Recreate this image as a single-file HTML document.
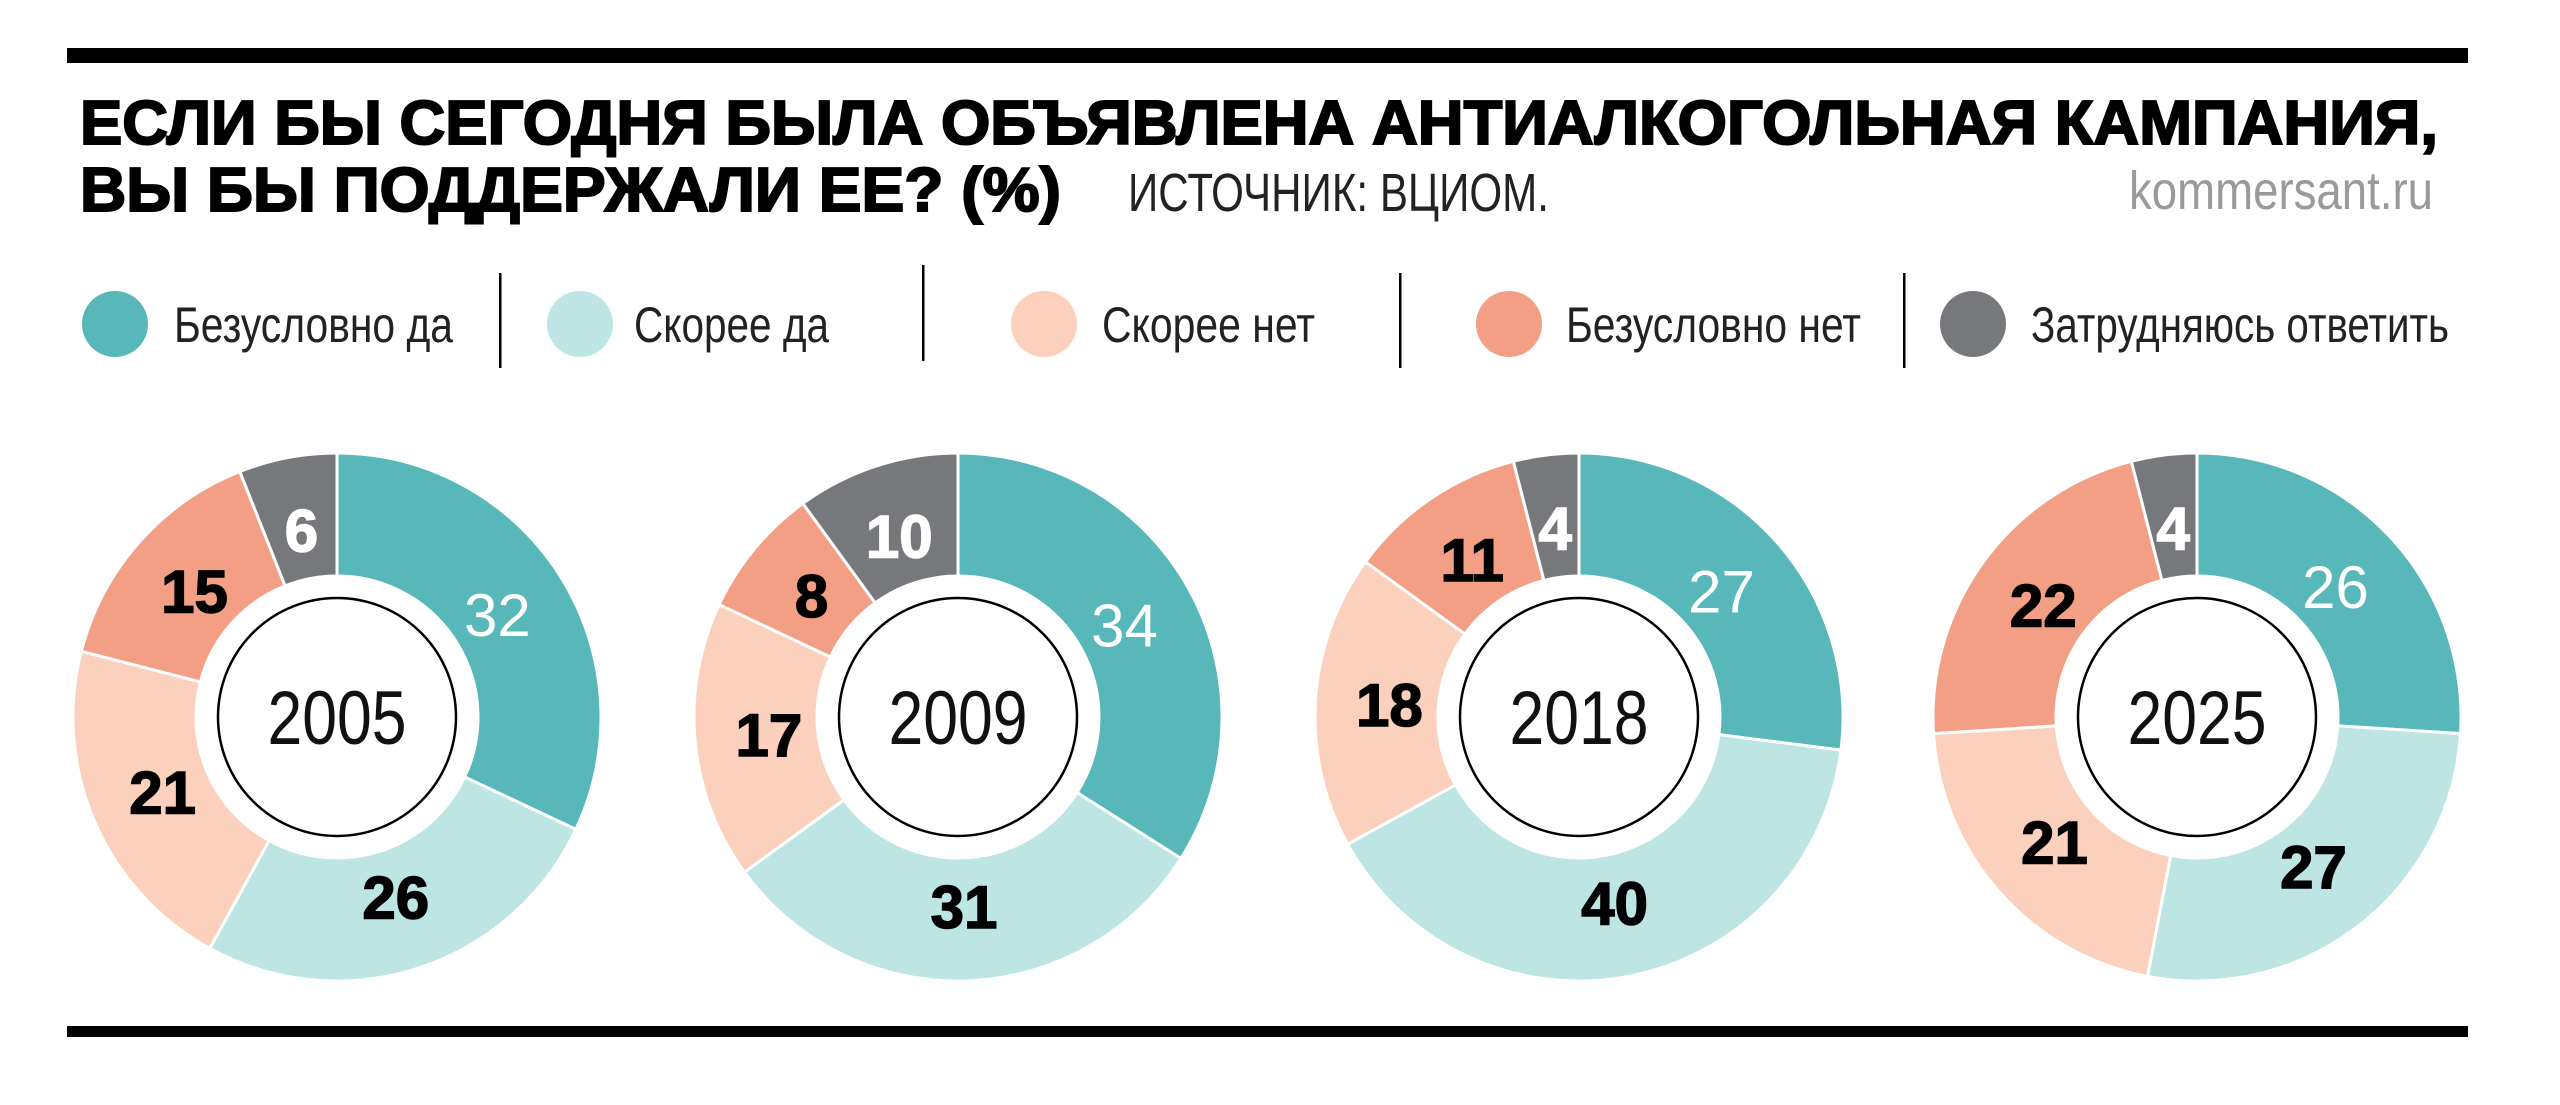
<!DOCTYPE html>
<html><head><meta charset="utf-8">
<style>html,body{margin:0;padding:0;background:#fff;}svg{display:block;}</style>
</head><body>
<svg id="s" xmlns="http://www.w3.org/2000/svg" width="2560" height="1105" viewBox="0 0 2560 1105" font-family="'Liberation Sans', sans-serif">
<rect x="0" y="0" width="2560" height="1105" fill="#fff"/>
<rect x="67" y="48" width="2401" height="15" fill="#000"/>
<rect x="67" y="1026" width="2401" height="11" fill="#000"/>
<text x="80" y="144" font-size="62" font-weight="bold" stroke="#000" stroke-width="2" textLength="2358" lengthAdjust="spacingAndGlyphs">ЕСЛИ БЫ СЕГОДНЯ БЫЛА ОБЪЯВЛЕНА АНТИАЛКОГОЛЬНАЯ КАМПАНИЯ,</text>
<text x="80" y="211" font-size="62" font-weight="bold" stroke="#000" stroke-width="2" textLength="981" lengthAdjust="spacingAndGlyphs">ВЫ БЫ ПОДДЕРЖАЛИ ЕЕ? (%)</text>
<text x="1128" y="211" font-size="54" fill="#222" textLength="421" lengthAdjust="spacingAndGlyphs">ИСТОЧНИК: ВЦИОМ.</text>
<text x="2129" y="209" font-size="54" fill="#9a9a9a" textLength="304" lengthAdjust="spacingAndGlyphs">kommersant.ru</text>
<g font-size="50" fill="#222">
<circle cx="115" cy="324" r="33" fill="#58b8b9"/>
<text x="174" y="342" textLength="279" lengthAdjust="spacingAndGlyphs">Безусловно да</text>
<rect x="499" y="273" width="2.5" height="95" fill="#000"/>
<circle cx="580" cy="324" r="33" fill="#bce5e4"/>
<text x="634" y="342" textLength="195" lengthAdjust="spacingAndGlyphs">Скорее да</text>
<rect x="922" y="265" width="2.5" height="96" fill="#000"/>
<circle cx="1044" cy="324" r="33" fill="#fbd0bd"/>
<text x="1102" y="342" textLength="213" lengthAdjust="spacingAndGlyphs">Скорее нет</text>
<rect x="1399" y="273" width="2.5" height="95" fill="#000"/>
<circle cx="1509" cy="324" r="33" fill="#f29f86"/>
<text x="1566" y="342" textLength="295" lengthAdjust="spacingAndGlyphs">Безусловно нет</text>
<rect x="1903" y="273" width="2.5" height="95" fill="#000"/>
<circle cx="1973" cy="324" r="33" fill="#77787b"/>
<text x="2031" y="342" textLength="418" lengthAdjust="spacingAndGlyphs">Затрудняюсь ответить</text>
</g>
<g id="charts"></g>
</svg>
<script>
(function(){
var NS="http://www.w3.org/2000/svg";
var g=document.getElementById("charts");
var cols=["#58b8b9","#bce5e4","#fbd0bd","#f29f86","#77787b"];
var tcol=["#fff","#000","#000","#000","#fff"];
var data=[[337,"2005",[32,26,21,15,6]],[958,"2009",[34,31,17,8,10]],[1579,"2018",[27,40,18,11,4]],[2197,"2025",[26,27,21,22,4]]];
var cy=717,R=264,r0=141;
function el(n,a,t){var e=document.createElementNS(NS,n);for(var k in a)e.setAttribute(k,a[k]);if(t!=null)e.textContent=t;g.appendChild(e);return e;}
function pt(cx,rad,f){var a=f*2*Math.PI;return [cx+rad*Math.sin(a),cy-rad*Math.cos(a)];}
data.forEach(function(d){
 var cx=d[0],v=d[2],acc=0;
 v.forEach(function(p,i){
  var s=acc/100,e=(acc+p)/100;acc+=p;
  var a=pt(cx,R,s),b=pt(cx,R,e),c=pt(cx,r0,e),q=pt(cx,r0,s);
  var lg=(e-s)>0.5?1:0;
  el("path",{d:"M"+a+" A"+R+","+R+" 0 "+lg+" 1 "+b+" L"+c+" A"+r0+","+r0+" 0 "+lg+" 0 "+q+"Z",fill:cols[i],stroke:"#fff","stroke-width":3});
  var m=pt(cx,190,(s+e)/2);
  var bold=(i!==0);
  var at={x:m[0],y:m[1]+21,"text-anchor":"middle","font-size":60,"font-weight":bold?"bold":"normal",fill:tcol[i]};
  if(bold){at.stroke=tcol[i];at["stroke-width"]=1.5;}
  el("text",at,String(p));
 });
 el("circle",{cx:cx,cy:cy,r:119,fill:"#fff",stroke:"#000","stroke-width":2.5});
 el("text",{x:cx,y:cy+27,"text-anchor":"middle","font-size":76,fill:"#111",textLength:139,lengthAdjust:"spacingAndGlyphs"},d[1]);
});
})();
</script>
</body></html>
